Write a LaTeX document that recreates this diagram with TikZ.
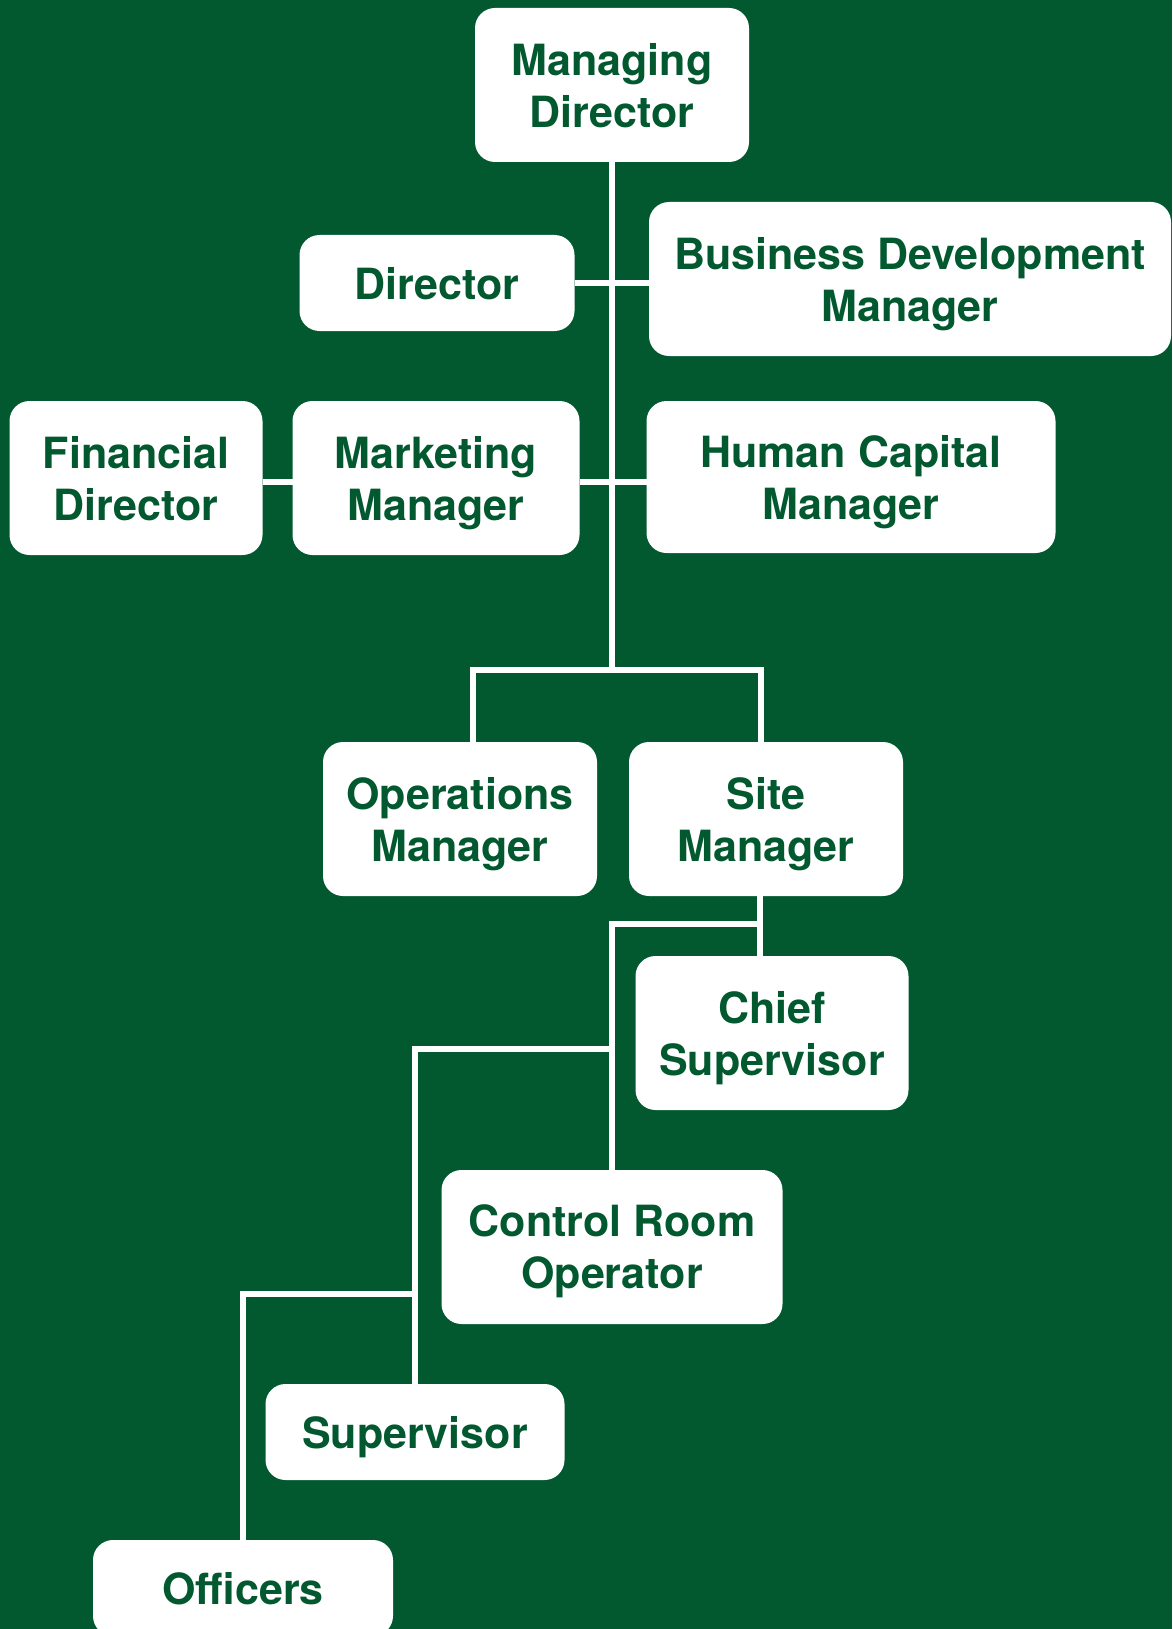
\documentclass[tikz,border=0pt]{standalone}
\usepackage{fontspec}
\setmainfont{TeX Gyre Heros}
\definecolor{mdgreen}{HTML}{02592F}
\tikzstyle{every node}=[fill=white, text=mdgreen, rounded corners=20pt, inner sep=0pt, outer sep=0pt, text depth=0pt, align=center, font=\fontsize{43}{52}\selectfont\bfseries]

\begin{document}
\begin{tikzpicture}[x=1pt, y=-1pt, line width=6.5pt, draw=white]
  \fill[mdgreen] (0,0) rectangle (1172,1629);
  \useasboundingbox (0,0) rectangle (1172,1629);

  \node[minimum width=274pt, minimum height=154pt] (md) at (612,85) {Managing\\Director};
  \node[minimum width=275pt, minimum height=96pt] (dir) at (437,283) {Director};
  \node[minimum width=522pt, minimum height=154pt] (bdm) at (910,279) {Business Development\\Manager};
  \node[minimum width=253pt, minimum height=154pt] (fin) at (136,478) {Financial\\Director};
  \node[minimum width=287pt, minimum height=154pt] (mkt) at (436,478) {Marketing\\Manager};
  \node[minimum width=409pt, minimum height=152pt] (hcm) at (851,477) {Human Capital\\Manager};
  \node[minimum width=274pt, minimum height=154pt] (ops) at (460,819) {Operations\\Manager};
  \node[minimum width=274pt, minimum height=154pt] (site) at (766,819) {Site\\Manager};
  \node[minimum width=273pt, minimum height=154pt] (chief) at (772,1033) {Chief\\Supervisor};
  \node[minimum width=341pt, minimum height=154pt] (ctrl) at (612,1247) {Control Room\\Operator};
  \node[minimum width=299pt, minimum height=96pt] (sup) at (415,1432) {Supervisor};
  \node[minimum width=300pt, minimum height=96pt] (off) at (243,1588) {Officers};

  \coordinate (split) at (612,670);
  \coordinate (sitejoin) at (760,924);
  \coordinate (supjoin) at (612,1049);
  \coordinate (offjoin) at (416,1294);

  \draw (md.south) -- (split);
  \draw (dir.east) -- (dir.east -| bdm.west);
  \draw ([yshift=-4pt]fin.east) -- ([yshift=-4pt]mkt.west);
  \draw ([yshift=-4pt]mkt.east) -- ([yshift=-4pt]mkt.east -| hcm.west);
  \draw ([xshift=13pt]ops.north) |- (split) -| ([xshift=-5pt]site.north);
  \draw ([xshift=-6pt]site.south) -- ([xshift=-6pt]site.south |- chief.north);
  \draw (sitejoin) -| (ctrl.north);
  \draw (supjoin) -| (sup.north);
  \draw (offjoin) -| (off.north);
\end{tikzpicture}
\end{document}
